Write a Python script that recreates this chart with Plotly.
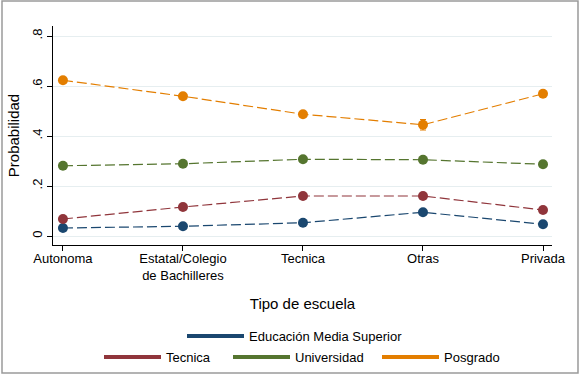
import plotly.graph_objects as go

categories = ["Autonoma", "Estatal/Colegio<br>de Bachilleres", "Tecnica", "Otras", "Privada"]
series_names = ["Educación Media Superior", "Tecnica", "Universidad", "Posgrado"]
ems = [0.032, 0.039, 0.053, 0.095, 0.047]
tecnica = [0.068, 0.116, 0.160, 0.160, 0.104]
universidad = [0.281, 0.289, 0.307, 0.305, 0.287]
posgrado = [0.623, 0.559, 0.487, 0.445, 0.569]
ems_err = [0.004, 0.004, 0.006, 0.010, 0.006]
tecnica_err = [0.006, 0.006, 0.008, 0.012, 0.008]
universidad_err = [0.008, 0.006, 0.009, 0.012, 0.009]
posgrado_err = [0.009, 0.007, 0.010, 0.021, 0.010]
ytick_vals = [0, 0.2, 0.4, 0.6, 0.8]
ytick_text = ["0", ".2", ".4", ".6", ".8"]

colors = ["#1a476f", "#90353b", "#55752f", "#e37e00"]
series = [ems, tecnica, universidad, posgrado]
errs = [ems_err, tecnica_err, universidad_err, posgrado_err]

fig = go.Figure()
x_idx = list(range(len(categories)))
for name, vals, err, c in zip(series_names, series, errs, colors):
    fig.add_trace(go.Scatter(
        x=x_idx, y=vals, mode="lines+markers", name=name, showlegend=False,
        line=dict(color=c, width=1.2, dash="10px,4px"),
        marker=dict(color=c, size=10),
        error_y=dict(type="data", array=err, color=c, thickness=1.2, width=3),
    ))

# legend-only entries, each in its own legend box
legend_ids = ["legend", "legend2", "legend3", "legend4"]
for name, c, lid in zip(series_names, colors, legend_ids):
    fig.add_trace(go.Scatter(
        x=[None], y=[None], mode="lines", name=name,
        line=dict(color=c, width=4), legend=lid,
    ))

W, H = 579, 376
# symbol start x (px) and row centre y (px)
leg_pos = {"legend": (187, 336), "legend2": (104, 357), "legend3": (233, 357), "legend4": (382, 357)}
OFF = 5
legends = {}
for lid, (px, py) in leg_pos.items():
    legends[lid] = dict(orientation="h", xanchor="left", xref="container", x=(px - OFF) / W,
                        yanchor="middle", yref="container", y=1 - py / H,
                        font=dict(size=13), itemwidth=57, bgcolor="rgba(0,0,0,0)")

font = "Arial, Liberation Sans, sans-serif"
fig.update_layout(
    width=W, height=H,
    margin=dict(l=53, r=27, t=26, b=131, autoexpand=False),
    paper_bgcolor="white", plot_bgcolor="white",
    font=dict(family=font, size=13, color="black"),
    xaxis=dict(
        range=[-0.083, 4.075], tickvals=x_idx, ticktext=categories,
        showline=True, linecolor="black", linewidth=1.2, mirror=False,
        ticks="outside", ticklen=5, tickcolor="black", showgrid=False, zeroline=False,
        ticklabelstandoff=-4,
        title=dict(text="Tipo de escuela", font=dict(size=15), standoff=16),
        tickfont=dict(size=13), automargin=False,
    ),
    yaxis=dict(
        range=[-0.036, 0.84], tickvals=ytick_vals, ticktext=ytick_text, tickangle=-90,
        showline=True, linecolor="black", linewidth=1.2,
        ticks="outside", ticklen=5, tickcolor="black",
        showgrid=True, gridcolor="#e6eef0", gridwidth=1, zeroline=False,
        title=dict(text="Probabilidad", font=dict(size=15), standoff=6),
        tickfont=dict(size=13), automargin=False,
    ),
    shapes=[dict(type="rect", xref="paper", yref="paper",
                 x0=-0.1022, x1=1.0521, y0=-0.5845, y1=1.114,
                 line=dict(color="#9a9a9a", width=1.5), fillcolor="rgba(0,0,0,0)")],
    **legends,
)

fig.write_html("out.html", config={"displayModeBar": False},
               post_script="document.body.style.margin='0';document.body.style.overflow='hidden';")
